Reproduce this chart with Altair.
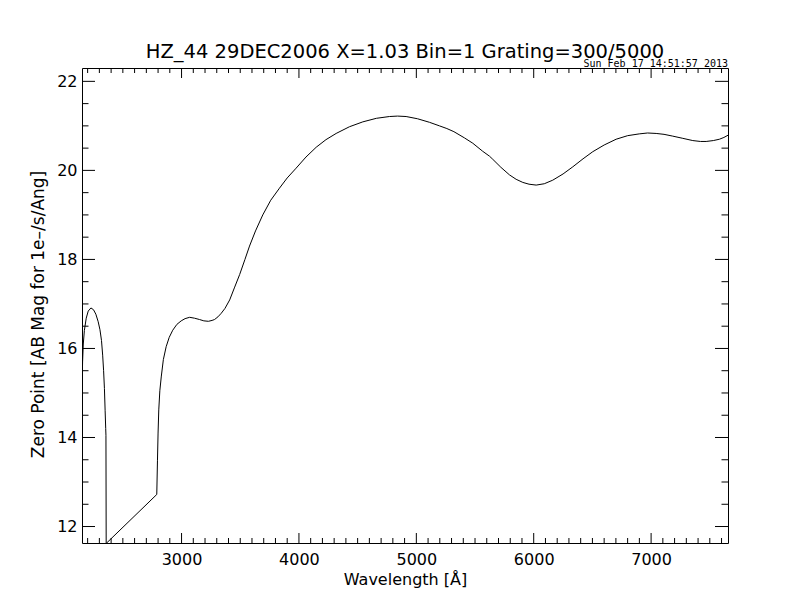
import altair as alt
import pandas as pd

TITLE = "HZ_44 29DEC2006 X=1.03 Bin=1 Grating=300/5000"
STAMP = "Sun Feb 17 14:51:57 2013"

# zero point curve
wavelength = [
    2152, 2157, 2163, 2172, 2188, 2205, 2228, 2250, 2270, 2290, 2305, 2318,
    2328, 2336, 2343, 2349, 2354, 2356, 2358,
    2789, 2795, 2800, 2806, 2815, 2827, 2845, 2869, 2895, 2925, 2960, 2997,
    3030, 3069, 3110, 3153, 3190, 3229, 3260, 3281, 3310, 3338, 3370, 3410,
    3450, 3495, 3540, 3579, 3630, 3692, 3760, 3834, 3900, 3976, 4060, 4147,
    4230, 4317, 4430, 4544, 4660, 4771, 4840, 4913, 5010, 5112, 5197, 5260,
    5320, 5410, 5481, 5565, 5623, 5651, 5720, 5793, 5850, 5907, 5960, 6021,
    6090, 6162, 6250, 6333, 6420, 6503, 6600, 6702, 6800, 6899, 6970, 7043,
    7110, 7184, 7270, 7355, 7420, 7469, 7530, 7582, 7620, 7655,
]
zero_point = [
    14.98, 15.70, 16.10, 16.40, 16.68, 16.84, 16.91, 16.87, 16.77, 16.60, 16.42, 16.18,
    15.85, 15.50, 15.10, 14.60, 14.20, 14.05, 11.62,
    12.72, 13.49, 14.10, 14.62, 15.05, 15.36, 15.75, 16.04, 16.25, 16.41, 16.54, 16.62,
    16.67, 16.70, 16.68, 16.65, 16.62, 16.61, 16.63, 16.65, 16.71, 16.79, 16.90, 17.09,
    17.36, 17.66, 18.00, 18.30, 18.64, 19.00, 19.33, 19.60, 19.83, 20.05, 20.30, 20.52,
    20.69, 20.83, 20.98, 21.09, 21.17, 21.21, 21.22, 21.21, 21.16, 21.08, 21.00, 20.94,
    20.87, 20.73, 20.61, 20.43, 20.32, 20.25, 20.07, 19.90, 19.80, 19.73, 19.69, 19.67,
    19.70, 19.78, 19.92, 20.08, 20.26, 20.42, 20.57, 20.70, 20.78, 20.82, 20.84, 20.83,
    20.81, 20.77, 20.72, 20.67, 20.65, 20.65, 20.67, 20.70, 20.74, 20.79,
]

x_major = [3000, 4000, 5000, 6000, 7000]
x_minor = [w for w in range(2200, 7700, 100) if w not in x_major]
y_major = [12, 14, 16, 18, 20, 22]
y_minor = [v / 2 for v in range(24, 45) if v % 4]

W, H = 646, 475
FONT = "DejaVu Sans"
X_SCALE = alt.Scale(domain=[2152, 7655], nice=False, zero=False)
Y_SCALE = alt.Scale(domain=[11.63, 22.30], nice=False, zero=False)
# same axis objects on every layer so Vega-Lite merges them into one
X_AXIS = alt.Axis(title="Wavelength [Å]", orient="bottom", values=x_major, format="d",
                  ticks=False, domain=False, grid=False, labelPadding=8,
                  titleY=41, titleBaseline="alphabetic")
Y_AXIS = alt.Axis(title="Zero Point [AB Mag for 1e–/s/Ang]", orient="left", values=y_major,
                  format="d", ticks=False, domain=False, grid=False, labelPadding=5,
                  titleX=-39, titleY=246, titleAngle=270, titleAlign="center",
                  titleBaseline="alphabetic", titleFontSize=17)

df = pd.DataFrame({"wavelength": wavelength, "zp": zero_point})

curve = alt.Chart(df).mark_line(color="black", strokeWidth=1, clip=True).encode(
    x=alt.X("wavelength:Q", scale=X_SCALE, axis=X_AXIS),
    y=alt.Y("zp:Q", scale=Y_SCALE, axis=Y_AXIS),
)


def x_ticks(values, length):
    tick_df = pd.DataFrame({"v": values})
    base = alt.Chart(tick_df).mark_rule(color="black", strokeWidth=1)
    bottom = base.encode(x=alt.X("v:Q", scale=X_SCALE, axis=X_AXIS),
                         y=alt.value(H), y2=alt.value(H - length))
    top = base.encode(x=alt.X("v:Q", scale=X_SCALE, axis=X_AXIS),
                      y=alt.value(0), y2=alt.value(length))
    return [bottom, top]


def y_ticks(values, length):
    tick_df = pd.DataFrame({"v": values})
    base = alt.Chart(tick_df).mark_rule(color="black", strokeWidth=1)
    left = base.encode(y=alt.Y("v:Q", scale=Y_SCALE, axis=Y_AXIS),
                       x=alt.value(0), x2=alt.value(length))
    right = base.encode(y=alt.Y("v:Q", scale=Y_SCALE, axis=Y_AXIS),
                        x=alt.value(W), x2=alt.value(W - length))
    return [left, right]


title = alt.Chart(pd.DataFrame({"t": [TITLE]})).mark_text(
    align="center", baseline="alphabetic", font=FONT, fontSize=19.5, color="black"
).encode(x=alt.value(W / 2), y=alt.value(-10), text="t:N")

stamp = alt.Chart(pd.DataFrame({"t": [STAMP]})).mark_text(
    align="right", baseline="alphabetic", font="DejaVu Sans Mono", fontSize=10, color="black"
).encode(x=alt.value(W), y=alt.value(-1), text="t:N")

layers = [curve] + x_ticks(x_major, 10) + x_ticks(x_minor, 5) \
    + y_ticks(y_major, 13) + y_ticks(y_minor, 6.5) + [title, stamp]

chart = alt.layer(*layers).properties(
    width=W,
    height=H,
    autosize=alt.AutoSizeParams(type="none"),
    padding={"left": 74, "top": 60, "right": 56, "bottom": 61},
    background="white",
).configure_view(
    stroke="black", strokeWidth=1
).configure_axis(
    labelFont=FONT, labelFontSize=16, labelColor="black",
    titleFont=FONT, titleFontSize=16, titleFontWeight="normal", titleColor="black",
)

chart.save("out.html", embed_options={"renderer": "svg", "actions": False})
